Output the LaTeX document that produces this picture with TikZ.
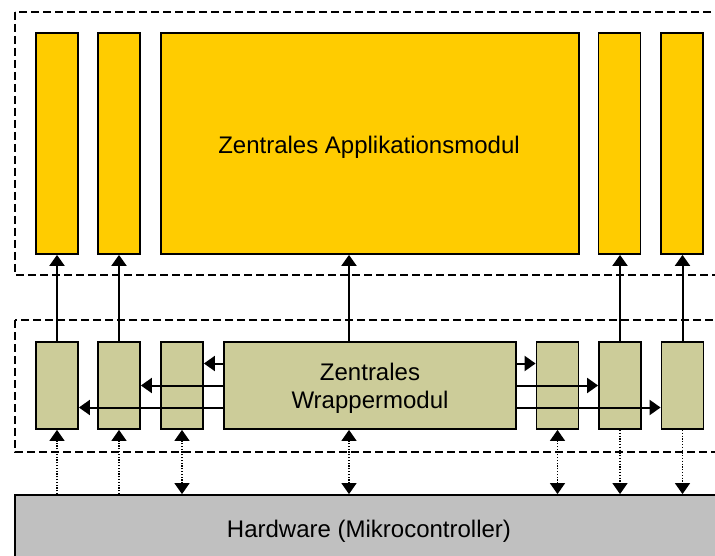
\documentclass[tikz,border=0pt]{standalone}
\usepackage{fontspec}
\setmainfont{Liberation Sans}
\usetikzlibrary{arrows.meta,calc}

\definecolor{appyellow}{HTML}{FFCC00}
\definecolor{wrapgreen}{HTML}{CCCC99}
\definecolor{hwgray}{HTML}{C0C0C0}

\tikzset{
  box/.style={draw, line width=1.8pt, inner sep=0pt},
  appbox/.style={box, fill=appyellow, minimum height=221pt},
  wrapbox/.style={box, fill=wrapgreen, minimum height=87pt},
  label text/.style={inner sep=0pt, align=center, font=\fontsize{24}{28.5}\selectfont},
  layer/.style={dash pattern=on 8pt off 4pt, line width=1.8pt},
  link/.style={->, line width=2pt},
  hwlink/.style={line width=1.3pt, dash pattern=on 1.2pt off 1.6pt}
}

\begin{document}
\begin{tikzpicture}[x=1pt,y=-1pt, >={Triangle[width=15pt,length=11pt]}]
  \useasboundingbox (0,0) rectangle (715,556);

  % layer frames (open to the right)
  \draw[layer] (15,12) rectangle (730,275);
  \draw[layer] (15,320) rectangle (730,452);

  % application layer
  \node[appbox, minimum width=42pt] (app1) at (57,143.5) {};
  \node[appbox, minimum width=42pt] (app2) at (119,143.5) {};
  \node[appbox, minimum width=418pt] (app) at (370,143.5) {};
  \node[appbox, minimum width=42pt] (app4) at (619.5,143.5) {};
  \node[appbox, minimum width=42pt] (app5) at (682,143.5) {};
  \node[label text, anchor=base] (apptext) at (369,153.3) {Zentrales Applikationsmodul};

  % wrapper layer
  \node[wrapbox, minimum width=42pt] (wr1) at (57,385.5) {};
  \node[wrapbox, minimum width=42pt] (wr2) at (119,385.5) {};
  \node[wrapbox, minimum width=42pt] (wr3) at (182,385.5) {};
  \node[wrapbox, minimum width=292pt] (wr) at (370,385.5) {};
  \node[wrapbox, minimum width=42pt] (wr5) at (557.5,385.5) {};
  \node[wrapbox, minimum width=42pt] (wr6) at (620,385.5) {};
  \node[wrapbox, minimum width=42pt] (wr7) at (682.5,385.5) {};
  \node[label text] (wrtext) at (370,388.5) {Zentrales\\Wrappermodul};
  \coordinate (wrtop) at ($(wr.north)+(-21,0)$);
  \coordinate (wrbot) at ($(wr.south)+(-21,0)$);

  % hardware
  \node[box, fill=hwgray, minimum width=708pt, minimum height=66pt] (hw) at (369,528) {};
  \node[label text, anchor=base] (hwtext) at (369,537.3) {Hardware (Mikrocontroller)};

  % wrapper -> application
  \draw[link] (wr1.north) -- (app1.south);
  \draw[link] (wr2.north) -- (app2.south);
  \draw[link] (wrtop) -- (wrtop |- app.south);
  \draw[link] (wr6.north) -- (wr6.north |- app4.south);
  \draw[link] (wr7.north) -- (wr7.north |- app5.south);

  % central wrapper -> single wrappers
  \draw[link] ($(wr.west)+(0,-22)$) -- ($(wr3.east)+(0,-22)$);
  \draw[link] (wr.west) -- (wr2.east);
  \draw[link] ($(wr.west)+(0,22)$) -- ($(wr1.east)+(0,22)$);
  \draw[link] ($(wr.east)+(0,-22)$) -- ($(wr5.west)+(0,-22)$);
  \draw[link] (wr.east) -- (wr6.west);
  \draw[link] ($(wr.east)+(0,22)$) -- ($(wr7.west)+(0,22)$);

  % hardware access
  \draw[hwlink, ->] (wr1.south |- hw.north) -- (wr1.south);
  \draw[hwlink, ->] (wr2.south |- hw.north) -- (wr2.south);
  \draw[hwlink, <->] (wr3.south |- hw.north) -- (wr3.south);
  \draw[hwlink, <->] (wrbot |- hw.north) -- (wrbot);
  \draw[hwlink, <->] (wr5.south |- hw.north) -- (wr5.south);
  \draw[hwlink, ->] (wr6.south) -- (wr6.south |- hw.north);
  \draw[hwlink, ->] (wr7.south) -- (wr7.south |- hw.north);
\end{tikzpicture}
\end{document}
